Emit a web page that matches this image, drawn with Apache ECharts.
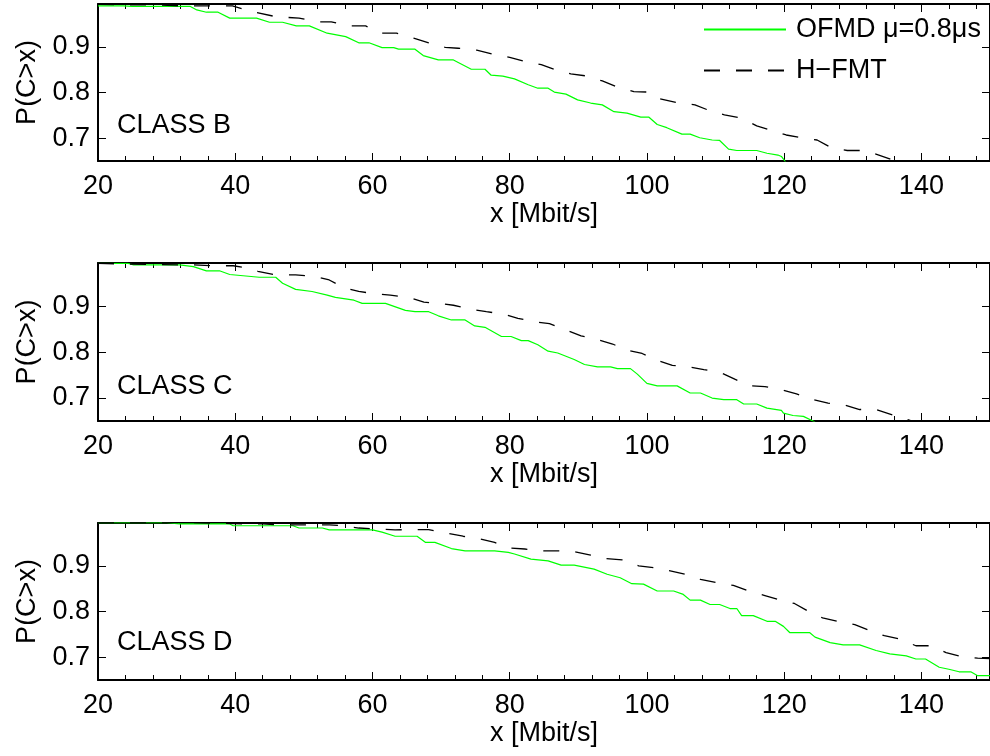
<!DOCTYPE html>
<html>
<head>
<meta charset="utf-8">
<script src="https://cdn.jsdelivr.net/npm/echarts@6/dist/echarts.min.js"></script>
<style>
html,body{margin:0;padding:0;background:#fff;}
#chart{width:990px;height:756px;}
</style>
</head>
<body>
<div id="chart"></div>
<script>
// ---------- data ----------
const panelLabels = ['CLASS B', 'CLASS C', 'CLASS D'];
const seriesNames = ['OFMD \u03bc=0.8\u03bcs', 'H\u2212FMT'];
const xTickValues = [20, 40, 60, 80, 100, 120, 140];
const yTickValues = [0.7, 0.8, 0.9];
const xMin = 20, xMax = 150, yMin = 0.65, yMax = 0.994;
const xAxisName = 'x [Mbit/s]';
const yAxisName = 'P(C>x)';

const ofmdB = [[20,0.990],[23.7,0.990],[25,0.989],[33.4,0.989],[34.4,0.981],[35.8,0.976],[37.5,0.976],[39.2,0.963],[43.1,0.963],[45,0.954],[46.9,0.954],[48.9,0.946],[50.8,0.946],[53.4,0.930],[56.1,0.9226],[58,0.909],[59.5,0.909],[61.4,0.8985],[63.1,0.8985],[63.8,0.895],[66.2,0.895],[67.4,0.881],[69.6,0.8715],[71.8,0.8715],[74.4,0.851],[76.4,0.851],[77.3,0.838],[79,0.836],[80.7,0.830],[82.7,0.817],[84.1,0.8095],[85.6,0.8095],[86.5,0.801],[88.2,0.7965],[89.9,0.784],[91.8,0.777],[93.5,0.773],[95.2,0.758],[97.1,0.755],[99.1,0.746],[100.3,0.746],[101.5,0.730],[102.9,0.723],[105.1,0.709],[106.3,0.709],[107.7,0.701],[109.5,0.696],[110.6,0.695],[111.9,0.676],[113.1,0.673],[116,0.673],[117.5,0.667],[119.1,0.663],[119.6,0.660],[120.2,0.648]];
const hfmtB = [[20,0.993],[25,0.992],[28,0.992],[32,0.990],[34,0.990],[39.6,0.990],[42.5,0.977],[46,0.966],[49.3,0.963],[52.2,0.955],[54,0.955],[56.6,0.946],[59,0.946],[61.4,0.930],[63.5,0.930],[66,0.919],[68.2,0.909],[70.6,0.899],[72.5,0.897],[75.2,0.893],[77.6,0.884],[80,0.877],[82.2,0.868],[84.6,0.861],[86.7,0.850],[88.9,0.841],[91.1,0.8365],[93.5,0.8255],[95.7,0.812],[98.1,0.802],[100.3,0.801],[101.5,0.7876],[104.4,0.778],[107,0.773],[109.2,0.760],[111.3,0.751],[113.8,0.744],[116,0.727],[118.2,0.717],[120.3,0.707],[122.5,0.701],[124.8,0.696],[127,0.678],[129.2,0.673],[131.6,0.673],[133.8,0.663],[135.9,0.652],[136.5,0.648]];
const ofmdC = [[20,0.993],[24.4,0.993],[25.2,0.990],[31.9,0.990],[33.9,0.986],[35.8,0.977],[37.7,0.977],[39.2,0.969],[43.5,0.963],[45.9,0.963],[46.9,0.950],[48.8,0.9365],[51.2,0.932],[53.4,0.924],[54.6,0.919],[57.3,0.913],[58.5,0.906],[61.9,0.906],[64.8,0.891],[66.2,0.888],[68.2,0.888],[69.6,0.879],[71.5,0.870],[73.5,0.870],[74.9,0.857],[76.4,0.854],[78.8,0.834],[80.2,0.834],[81.7,0.825],[82.7,0.825],[84.1,0.816],[85.6,0.802],[87,0.798],[89.4,0.784],[90.9,0.773],[92.8,0.768],[94.7,0.768],[95.7,0.764],[97.6,0.764],[98.6,0.752],[100,0.732],[101.5,0.7265],[104.4,0.7265],[106.3,0.711],[107.8,0.711],[109.5,0.700],[111.2,0.6965],[113.1,0.6965],[114.1,0.687],[116,0.687],[117.5,0.678],[119.6,0.673],[119.9,0.667],[121.3,0.662],[122.8,0.660],[124.5,0.648]];
const hfmtC = [[20,0.993],[31.6,0.990],[33.8,0.990],[36.8,0.988],[39.7,0.988],[41.1,0.9845],[43.3,0.976],[45.9,0.968],[48.8,0.968],[51.7,0.9645],[53.7,0.957],[55.9,0.940],[58,0.932],[60.4,0.927],[62.6,0.924],[65.3,0.919],[67.5,0.909],[69.6,0.906],[71.8,0.902],[74.4,0.893],[76.6,0.888],[79,0.883],[81.2,0.8735],[83.6,0.866],[85.8,0.862],[88.2,0.848],[90.4,0.8355],[92.8,0.827],[95,0.8176],[97.1,0.804],[99.3,0.797],[101.5,0.782],[103.7,0.771],[106.1,0.768],[108.3,0.762],[110.6,0.7566],[112.8,0.741],[115,0.7265],[117.2,0.725],[119.6,0.718],[121.8,0.709],[124.2,0.6965],[126.4,0.689],[128.8,0.685],[131,0.675],[133.4,0.675],[135.8,0.663],[138,0.653],[139,0.648]];
const ofmdD = [[20,0.995],[30,0.995],[31.9,0.992],[39.2,0.992],[39.7,0.988],[48.4,0.988],[49.3,0.983],[52.7,0.983],[53.7,0.979],[60,0.979],[61.4,0.974],[63.3,0.965],[66.5,0.965],[67.7,0.9516],[69.1,0.9516],[71.5,0.938],[73.5,0.933],[77.8,0.933],[79.8,0.9296],[80.7,0.926],[83.1,0.915],[85.6,0.911],[87.5,0.9016],[89.4,0.9016],[92.3,0.893],[94.2,0.8817],[96.1,0.874],[97.8,0.861],[99.5,0.860],[101.5,0.845],[103.9,0.845],[105.3,0.8375],[106.3,0.825],[107.8,0.825],[109.2,0.8154],[110.6,0.8154],[112.1,0.8066],[113.1,0.8066],[113.8,0.791],[115.5,0.791],[117.5,0.7786],[118.7,0.7786],[119.9,0.7675],[120.8,0.754],[123.7,0.754],[124.5,0.744],[126.7,0.732],[128.6,0.727],[131,0.727],[133.4,0.7146],[135.4,0.7073],[137.8,0.7029],[139.2,0.696],[140.6,0.696],[142.6,0.678],[144,0.6735],[145.5,0.668],[147.2,0.668],[148.2,0.6594],[150,0.6594]];
const hfmtD = [[20,0.995],[33,0.995],[41.6,0.992],[44,0.992],[46.4,0.990],[53.7,0.990],[55.6,0.988],[58,0.983],[60.9,0.981],[63.3,0.979],[65.7,0.9795],[68.2,0.9795],[70.8,0.972],[73.2,0.965],[75.4,0.960],[77.8,0.9516],[80,0.939],[82.2,0.937],[84.6,0.933],[87,0.933],[89.4,0.931],[91.8,0.9236],[94,0.916],[96.4,0.913],[98.8,0.900],[101,0.8963],[103.4,0.889],[105.6,0.8817],[107.8,0.8706],[110.2,0.863],[112.6,0.8574],[114.8,0.845],[117.2,0.835],[119.4,0.825],[121.5,0.8177],[123.5,0.8007],[125.6,0.786],[127.8,0.7786],[130.3,0.7713],[132.4,0.759],[134.6,0.747],[136.8,0.740],[139.2,0.725],[141.4,0.725],[143.6,0.710],[145.8,0.7013],[148.2,0.698],[150,0.697]];

const panelData = [[ofmdB, hfmtB], [ofmdC, hfmtC], [ofmdD, hfmtD]];

// ---------- layout / style ----------
const FONT = "'Liberation Sans', Arial, sans-serif";
const FS = 27;
const gridTops = [4, 263, 523];
const gridHeights = [157, 158, 157];
const GRID_LEFT = 98, GRID_WIDTH = 897;
const minorTickValues = [];
for (let v = xMin; v < xMax; v += 4) minorTickValues.push(v);

const grids = [], xAxes = [], yAxes = [], series = [], graphics = [];
panelData.forEach((pair, g) => {
  grids.push({left: GRID_LEFT, width: GRID_WIDTH, top: gridTops[g], height: gridHeights[g], containLabel: false});
  const xBase = xAxes.length;
  const mkX = (pos, major, labels) => ({
    type: 'value', gridIndex: g, position: pos, min: xMin, max: xMax,
    interval: major ? 20 : 4,
    axisLine: {show: major, onZero: false, lineStyle: {color: '#000', width: 2}},
    axisTick: {show: true, inside: true, length: major ? 8 : 5,
      customValues: major ? xTickValues : minorTickValues,
      lineStyle: {color: '#000', width: 1}},
    axisLabel: {show: labels, margin: 12, color: '#000', fontSize: FS, fontFamily: FONT,
      customValues: xTickValues},
    splitLine: {show: false},
    name: labels ? xAxisName : '', nameLocation: 'middle', nameGap: 39,
    nameTextStyle: {color: '#000', fontSize: FS, fontFamily: FONT}
  });
  xAxes.push(mkX('bottom', true, true));
  xAxes.push(mkX('bottom', false, false));
  xAxes.push(mkX('top', true, false));
  xAxes.push(mkX('top', false, false));
  const yBase = yAxes.length;
  const mkY = (pos, labels) => ({
    type: 'value', gridIndex: g, position: pos, min: yMin, max: yMax,
    axisLine: {show: true, onZero: false, lineStyle: {color: '#000', width: 2}},
    axisTick: {show: true, inside: true, length: 8, customValues: yTickValues,
      lineStyle: {color: '#000', width: 1}},
    axisLabel: {show: labels, margin: 8, color: '#000', fontSize: FS, fontFamily: FONT,
      customValues: yTickValues, formatter: v => v.toFixed(1)},
    splitLine: {show: false},
    name: labels ? yAxisName : '', nameLocation: 'middle', nameGap: 57,
    nameTextStyle: {color: '#000', fontSize: FS, fontFamily: FONT}
  });
  yAxes.push(mkY('left', true));
  yAxes.push(mkY('right', false));
  series.push({
    name: seriesNames[0], type: 'line', xAxisIndex: xBase, yAxisIndex: yBase,
    data: pair[0], symbol: 'none', showSymbol: false, clip: true,
    lineStyle: {color: '#00ff00', width: 1.2}, itemStyle: {color: '#00ff00'}
  });
  series.push({
    name: seriesNames[1], type: 'line', xAxisIndex: xBase, yAxisIndex: yBase,
    data: pair[1], symbol: 'none', showSymbol: false, clip: true,
    lineStyle: {color: '#000', width: 1.3, type: [16, 16]}, itemStyle: {color: '#000'}
  });
  graphics.push({
    type: 'text', left: 117, top: gridTops[g] + [108, 110, 106][g],
    style: {text: panelLabels[g], fill: '#000', font: FS + 'px ' + FONT}
  });
});

const chart = echarts.init(document.getElementById('chart'), null, {renderer: 'canvas'});
chart.setOption({
  animation: false,
  backgroundColor: '#fff',
  grid: grids,
  xAxis: xAxes,
  yAxis: yAxes,
  series: series,
  graphic: graphics,
  legend: {
    data: seriesNames, orient: 'vertical', left: 703, top: 16, padding: 0,
    itemWidth: 82, itemHeight: 14, itemGap: 14,
    itemStyle: {opacity: 0, borderWidth: 0},
    textStyle: {color: '#000', fontSize: FS, fontFamily: FONT, lineHeight: 27, padding: [0, 0, 0, 5]}
  }
});
</script>
</body>
</html>
